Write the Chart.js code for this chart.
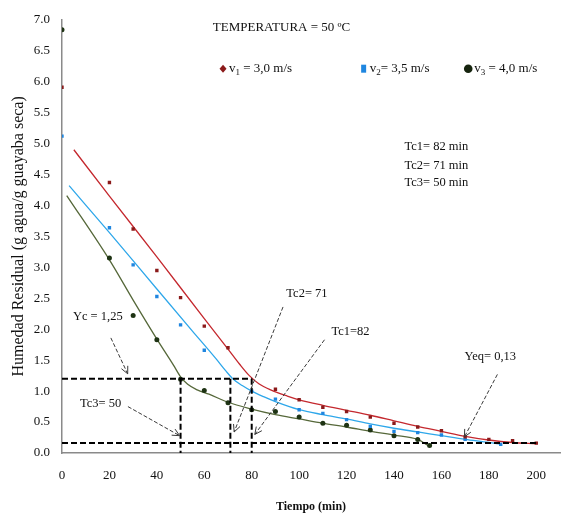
<!DOCTYPE html>
<html>
<head>
<meta charset="utf-8">
<script src="https://cdn.jsdelivr.net/npm/chart.js@4.4.1/dist/chart.umd.min.js"></script>
<style>
  body { margin: 0; background: #fff; }
  canvas { display: block; }
</style>
</head>
<body>
<canvas id="dryChart" width="564" height="517"></canvas>
<script>
// --- measured points (tiempo en min, humedad residual) ---
const v1Time = [0, 20, 30, 40, 50, 60, 70, 90, 100, 110, 120, 130, 140, 150, 160, 170, 180, 190, 200];
const v1Hum  = [5.91, 4.37, 3.62, 2.95, 2.51, 2.05, 1.70, 1.03, 0.86, 0.74, 0.67, 0.58, 0.48, 0.42, 0.36, 0.26, 0.22, 0.20, 0.16];

const v2Time = [0, 20, 30, 40, 50, 60, 80, 90, 100, 110, 120, 130, 140, 150, 160, 170, 185];
const v2Hum  = [5.12, 3.64, 3.04, 2.53, 2.07, 1.66, 1.00, 0.87, 0.70, 0.64, 0.54, 0.43, 0.35, 0.33, 0.29, 0.22, 0.14];

const v3Time = [0, 20, 30, 40, 50, 60, 70, 80, 90, 100, 110, 120, 130, 140, 150, 155];
const v3Hum  = [6.84, 3.15, 2.22, 1.83, 1.19, 1.01, 0.81, 0.70, 0.67, 0.58, 0.48, 0.45, 0.37, 0.28, 0.22, 0.12];

// --- fitted curves ---
const fit1Time = [5, 20, 40, 60, 70, 75, 79, 83, 88, 95, 100, 110, 120, 130, 140, 150, 160, 170, 180, 190, 200];
const fit1Hum  = [4.90, 4.15, 3.17, 2.17, 1.68, 1.43, 1.25, 1.12, 1.02, 0.92, 0.86, 0.77, 0.69, 0.61, 0.52, 0.43, 0.35, 0.27, 0.21, 0.17, 0.15];

const fit2Time = [3, 20, 40, 55, 65, 69, 72, 76, 80, 85, 90, 100, 110, 120, 130, 140, 150, 160, 170, 180, 185];
const fit2Hum  = [4.32, 3.56, 2.65, 1.97, 1.52, 1.33, 1.20, 1.09, 1.00, 0.91, 0.83, 0.70, 0.62, 0.55, 0.47, 0.40, 0.34, 0.28, 0.22, 0.17, 0.14];

const fit3Time = [2, 20, 30, 40, 47, 50, 53, 57, 62, 70, 80, 90, 100, 110, 120, 130, 140, 150, 154];
const fit3Hum  = [4.16, 3.12, 2.47, 1.84, 1.42, 1.23, 1.11, 1.02, 0.95, 0.82, 0.71, 0.62, 0.55, 0.48, 0.42, 0.35, 0.29, 0.22, 0.13];

// critical moisture, equilibrium moisture, critical times
const ycLevel = 1.2;
const eqLevel = 0.16;
const eqEnd = 200;
const tcTimes = [50, 71, 80];

const xTicks = { min: 0, max: 210, step: 20 };
const yTicks = { min: 0, max: 7, step: 0.5 };

const SERIF = '"Liberation Serif", "Times New Roman", serif';

const notes = [
    { text: 'Yc = 1,25', t: 4.6, v: 2.2 },
    { text: 'Tc3= 50', t: 7.6, v: 0.80 },
    { text: 'Tc2= 71', t: 94.6, v: 2.57 },
    { text: 'Tc1=82', t: 113.6, v: 1.96 },
    { text: 'Yeq= 0,13', t: 169.7, v: 1.56 },
    { text: 'Tc1= 82 min', t: 144.4, v: 4.95 },
    { text: 'Tc2= 71 min', t: 144.4, v: 4.65 },
    { text: 'Tc3= 50 min', t: 144.4, v: 4.37 },
    { text: 'TEMPERATURA = 50 ºC', t: 63.6, v: 6.88 }
];

const arrows = [
    { from: [20.6, 1.86], to: [27.7, 1.28] },
    { from: [27.8, 0.75], to: [49.6, 0.28] },
    { from: [93.2, 2.36], to: [72.6, 0.34] },
    { from: [110.7, 1.83], to: [81.3, 0.30] },
    { from: [183.6, 1.27], to: [169.7, 0.26] }
];

const legendItems = [
    { sub: '1', rest: ' = 3,0 m/s', t: 67.9, style: 'diamond', color: '#8b1a1a' },
    { sub: '2', rest: '= 3,5 m/s', t: 127.2, style: 'rect', color: '#1f86e0' },
    { sub: '3', rest: ' = 4,0 m/s', t: 171.3, style: 'circle', color: '#16240e' }
];
const legendLevel = 6.21;

const pts = (xs, ys) => xs.map((x, i) => ({ x: x, y: ys[i] }));

function markerSet(label, xs, ys, color, style) {
    return {
        label: label, data: pts(xs, ys), showLine: false,
        pointStyle: style, pointRadius: style === 'circle' ? 2.5 : 2.4,
        backgroundColor: color, borderColor: color, borderWidth: 0, order: 2
    };
}

function fitSet(xs, ys, color) {
    return {
        data: pts(xs, ys), showLine: true, pointRadius: 0,
        borderColor: color, borderWidth: 1.3, cubicInterpolationMode: 'monotone', order: 3
    };
}

function dashSet(data) {
    return {
        data: data, showLine: true, pointRadius: 0, borderColor: '#000',
        borderWidth: 2, borderDash: [6, 3], order: 1
    };
}

const refLines = [
    dashSet([{ x: 0, y: ycLevel }, { x: tcTimes[2], y: ycLevel }]),
    dashSet([{ x: 0, y: eqLevel }, { x: eqEnd, y: eqLevel }])
].concat(tcTimes.map(t => dashSet([{ x: t, y: ycLevel }, { x: t, y: 0 }])));

// texts, arrows and the custom legend
const notesPlugin = {
    id: 'notes',
    afterDatasetsDraw(chart) {
        const { ctx, scales: { x, y } } = chart;
        ctx.save();

        // arrows
        arrows.forEach(a => {
            const x0 = x.getPixelForValue(a.from[0]), y0 = y.getPixelForValue(a.from[1]);
            const x1 = x.getPixelForValue(a.to[0]), y1 = y.getPixelForValue(a.to[1]);
            ctx.strokeStyle = '#3a3a3a';
            ctx.lineWidth = 1;
            ctx.setLineDash([4, 2]);
            ctx.beginPath();
            ctx.moveTo(x0, y0);
            ctx.lineTo(x1, y1);
            ctx.stroke();
            ctx.setLineDash([]);
            const ang = Math.atan2(y1 - y0, x1 - x0);
            ctx.beginPath();
            [-0.45, 0.45].forEach(d => {
                ctx.moveTo(x1, y1);
                ctx.lineTo(x1 - 8 * Math.cos(ang + d), y1 - 8 * Math.sin(ang + d));
            });
            ctx.stroke();
        });

        // annotations
        ctx.fillStyle = '#111';
        ctx.textBaseline = 'middle';
        ctx.textAlign = 'left';
        notes.forEach(n => {
            ctx.font = (n.text.length > 14 ? '13px ' : '12.5px ') + SERIF;
            ctx.fillText(n.text, x.getPixelForValue(n.t), y.getPixelForValue(n.v));
        });

        // legend with subscripts
        const ly = y.getPixelForValue(legendLevel);
        legendItems.forEach(it => {
            const mx = x.getPixelForValue(it.t);
            ctx.fillStyle = it.color;
            ctx.beginPath();
            if (it.style === 'diamond') {
                ctx.moveTo(mx, ly - 4); ctx.lineTo(mx + 3.5, ly);
                ctx.lineTo(mx, ly + 4); ctx.lineTo(mx - 3.5, ly);
                ctx.closePath();
            } else if (it.style === 'rect') {
                ctx.rect(mx - 2.5, ly - 4, 5, 8);
            } else {
                ctx.arc(mx, ly, 4.3, 0, Math.PI * 2);
            }
            ctx.fill();
            ctx.fillStyle = '#111';
            let tx = mx + 6;
            ctx.font = '13px ' + SERIF;
            ctx.fillText('v', tx, ly);
            tx += ctx.measureText('v').width;
            ctx.font = '9px ' + SERIF;
            ctx.fillText(it.sub, tx, ly + 4);
            tx += ctx.measureText(it.sub).width;
            ctx.font = '13px ' + SERIF;
            ctx.fillText(it.rest, tx, ly);
        });
        ctx.restore();
    }
};

new Chart(document.getElementById('dryChart'), {
    type: 'scatter',
    data: {
        datasets: [
            markerSet('v1', v1Time, v1Hum, '#8b1a1a', 'rect'),
            markerSet('v2', v2Time, v2Hum, '#1f86e0', 'rect'),
            markerSet('v3', v3Time, v3Hum, '#1e3314', 'circle'),
            fitSet(fit1Time, fit1Hum, '#c4282e'),
            fitSet(fit2Time, fit2Hum, '#2ea7ea'),
            fitSet(fit3Time, fit3Hum, '#56683a')
        ].concat(refLines)
    },
    options: {
        responsive: false,
        animation: false,
        layout: { padding: { top: 13, right: 3, bottom: 3, left: 0 } },
        plugins: { legend: { display: false }, tooltip: { enabled: false } },
        scales: {
            x: {
                type: 'linear', min: xTicks.min, max: xTicks.max,
                grid: { display: false, drawTicks: false },
                border: { color: '#8a8a8a', width: 1.5 },
                ticks: {
                    stepSize: xTicks.step, includeBounds: false, padding: 15,
                    color: '#111', font: { family: SERIF, size: 13 }
                },
                title: {
                    display: true, text: 'Tiempo (min)', color: '#111',
                    font: { family: SERIF, size: 12, weight: 'bold' }, padding: { top: 0, bottom: 0 }
                },
                afterFit: s => { s.height = 61; }
            },
            y: {
                min: yTicks.min, max: yTicks.max,
                grid: { display: false, drawTicks: false },
                border: { color: '#8a8a8a', width: 1.5 },
                ticks: {
                    stepSize: yTicks.step, padding: 12, color: '#111',
                    font: { family: SERIF, size: 13 },
                    callback: v => v.toFixed(1)
                },
                title: {
                    display: true, text: 'Humedad Residual (g agua/g guayaba seca)', color: '#111',
                    font: { family: SERIF, size: 16 }, padding: { top: 9, bottom: 0 }
                },
                afterFit: s => { s.width = 62; }
            }
        }
    },
    plugins: [notesPlugin]
});
</script>
</body>
</html>
